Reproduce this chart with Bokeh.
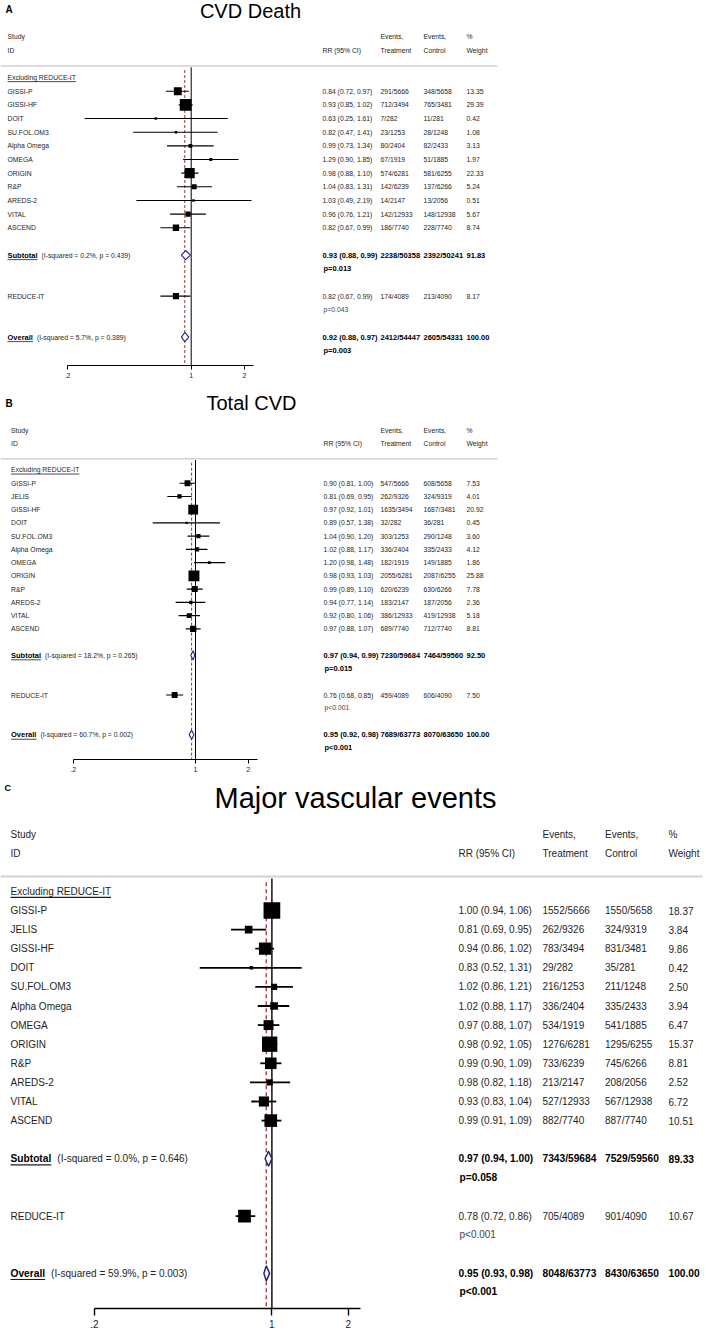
import numpy as np
from bokeh.plotting import figure
from bokeh.models import Range1d, FixedTicker
from bokeh.layouts import column
from bokeh.embed import file_html
from bokeh.resources import INLINE
from bokeh.core.properties import value

FONT = "Liberation Sans"

# ---------------- Panel A: CVD Death ----------------
studies_A = ["GISSI-P", "GISSI-HF", "DOIT", "SU.FOL.OM3", "Alpha Omega", "OMEGA",
             "ORIGIN", "R&P", "AREDS-2", "VITAL", "ASCEND"]
rr_A = [0.84, 0.93, 0.63, 0.82, 0.99, 1.29, 0.98, 1.04, 1.03, 0.96, 0.82]
lo_A = [0.72, 0.85, 0.25, 0.47, 0.73, 0.90, 0.88, 0.83, 0.49, 0.76, 0.67]
hi_A = [0.97, 1.02, 1.61, 1.41, 1.34, 1.85, 1.10, 1.31, 2.19, 1.21, 0.99]
trt_A = ["291/5666", "712/3494", "7/282", "23/1253", "80/2404", "67/1919",
         "574/6281", "142/6239", "14/2147", "142/12933", "186/7740"]
ctl_A = ["348/5658", "765/3481", "11/281", "28/1248", "82/2433", "51/1885",
         "581/6255", "137/6266", "13/2056", "148/12938", "228/7740"]
wt_A = [13.35, 29.39, 0.42, 1.08, 3.13, 1.97, 22.33, 5.24, 0.51, 5.67, 8.74]
# summary rows: subtotal, REDUCE-IT, overall
sum_rr_A = [0.93, 0.82, 0.92]
sum_lo_A = [0.88, 0.67, 0.88]
sum_hi_A = [0.99, 0.99, 0.97]
sum_trt_A = ["2238/50358", "174/4089", "2412/54447"]
sum_ctl_A = ["2392/50241", "213/4090", "2605/54331"]
sum_wt_A = [91.83, 8.17, 100.00]
sum_p_A = ["p=0.013", "p=0.043", "p=0.003"]
het_i2_A = [0.2, 5.7]
het_p_A = [0.439, 0.389]

# ---------------- Panel B: Total CVD ----------------
studies_B = ["GISSI-P", "JELIS", "GISSI-HF", "DOIT", "SU.FOL.OM3", "Alpha Omega", "OMEGA",
             "ORIGIN", "R&P", "AREDS-2", "VITAL", "ASCEND"]
rr_B = [0.90, 0.81, 0.97, 0.89, 1.04, 1.02, 1.20, 0.98, 0.99, 0.94, 0.92, 0.97]
lo_B = [0.81, 0.69, 0.92, 0.57, 0.90, 0.88, 0.98, 0.93, 0.89, 0.77, 0.80, 0.88]
hi_B = [1.00, 0.95, 1.01, 1.38, 1.20, 1.17, 1.48, 1.03, 1.10, 1.14, 1.06, 1.07]
trt_B = ["547/5666", "262/9326", "1635/3494", "32/282", "303/1253", "336/2404",
         "182/1919", "2055/6281", "620/6239", "183/2147", "386/12933", "689/7740"]
ctl_B = ["608/5658", "324/9319", "1687/3481", "36/281", "290/1248", "335/2433",
         "149/1885", "2087/6255", "630/6266", "187/2056", "419/12938", "712/7740"]
wt_B = [7.53, 4.01, 20.92, 0.45, 3.60, 4.12, 1.86, 25.88, 7.78, 2.36, 5.18, 8.81]
sum_rr_B = [0.97, 0.76, 0.95]
sum_lo_B = [0.94, 0.68, 0.92]
sum_hi_B = [0.99, 0.85, 0.98]
sum_trt_B = ["7230/59684", "459/4089", "7689/63773"]
sum_ctl_B = ["7464/59560", "606/4090", "8070/63650"]
sum_wt_B = [92.50, 7.50, 100.00]
sum_p_B = ["p=0.015", "p<0.001", "p<0.001"]
het_i2_B = [18.2, 60.7]
het_p_B = [0.265, 0.002]

# ---------------- Panel C: Major vascular events ----------------
studies_C = ["GISSI-P", "JELIS", "GISSI-HF", "DOIT", "SU.FOL.OM3", "Alpha Omega", "OMEGA",
             "ORIGIN", "R&P", "AREDS-2", "VITAL", "ASCEND"]
rr_C = [1.00, 0.81, 0.94, 0.83, 1.02, 1.02, 0.97, 0.98, 0.99, 0.98, 0.93, 0.99]
lo_C = [0.94, 0.69, 0.86, 0.52, 0.86, 0.88, 0.88, 0.92, 0.90, 0.82, 0.83, 0.91]
hi_C = [1.06, 0.95, 1.02, 1.31, 1.21, 1.17, 1.07, 1.05, 1.09, 1.18, 1.04, 1.09]
trt_C = ["1552/5666", "262/9326", "783/3494", "29/282", "216/1253", "336/2404",
         "534/1919", "1276/6281", "733/6239", "213/2147", "527/12933", "882/7740"]
ctl_C = ["1550/5658", "324/9319", "831/3481", "35/281", "211/1248", "335/2433",
         "541/1885", "1295/6255", "745/6266", "208/2056", "567/12938", "887/7740"]
wt_C = [18.37, 3.84, 9.86, 0.42, 2.50, 3.94, 6.47, 15.37, 8.81, 2.52, 6.72, 10.51]
sum_rr_C = [0.97, 0.78, 0.95]
sum_lo_C = [0.94, 0.72, 0.93]
sum_hi_C = [1.00, 0.86, 0.98]
sum_trt_C = ["7343/59684", "705/4089", "8048/63773"]
sum_ctl_C = ["7529/59560", "901/4090", "8430/63650"]
sum_wt_C = [89.33, 10.67, 100.00]
sum_p_C = ["p=0.058", "p<0.001", "p<0.001"]
het_i2_C = [0.0, 59.9]
het_p_C = [0.646, 0.003]

titles = ["CVD Death", "Total CVD", "Major vascular events"]
letters = ["A", "B", "C"]
tick_vals = [0.2, 1, 2]
tick_text = [".2", "1", "2"]
header_cols = ["RR (95% CI)", "Events,", "Treatment", "Events,", "Control", "%", "Weight"]
group_label = "Excluding REDUCE-IT"
extra_label = "REDUCE-IT"

# text metrics (Arial em widths) for underlines
EM_EXCL = 10.057
EM_SUB_B = 4.0
EM_OVR_B = 3.391


def build(L, d):
    x1, ppd, dy, y0 = L["x1"], L["ppd"], L["dy"], L["y0"]

    def X(px):
        return 10 ** ((px - x1) / ppd)

    def R(py):
        return (py - y0) / dy

    top, H, W, mbb = L["top"], L["height"], L["width"], L["mbb"]
    bottom_row = R(top + H - mbb)
    p = figure(width=W, height=H, x_axis_type="log",
               x_range=Range1d(X(0), X(W)), y_range=Range1d(bottom_row, R(top)),
               output_backend="svg", toolbar_location=None, y_axis_location=None,
               title_location=None,
               min_border_left=0, min_border_right=0, min_border_top=0,
               min_border_bottom=mbb, outline_line_color=None,
               background_fill_color="white", border_fill_color="white")
    p.xgrid.grid_line_color = None
    p.ygrid.grid_line_color = None
    fs, fsb = L["fs"], L["fsb"]

    def T(xs, ys, texts, size, bold=False, color="#1e1e1e", align="left"):
        p.text(x=xs, y=ys, text=texts, text_font=value(FONT),
               text_font_size=value(f"{size}px"),
               text_font_style="bold" if bold else "normal",
               text_color=color, text_align=align, text_baseline="middle")

    def UL(px, wpx, row, size):
        yy = row + 0.6 * size / dy
        p.segment(x0=[X(px)], x1=[X(px + wpx)], y0=[yy], y1=[yy],
                  line_color="#1e1e1e", line_width=L["ul_lw"])

    n = len(d["studies"])
    rows = np.arange(n)
    r_sub, r_red, r_all = n + 1, n + 4, n + 7
    hdr = L["hdr_row"]
    lx = L["label_x"]
    cx = L["cols"]

    # header rule
    p.segment(x0=[X(0)], x1=[X(L["line_end"])], y0=[hdr], y1=[hdr],
              line_color="#d2d2d2", line_width=L["hdr_lw"])
    # null line and overall dashed line
    p.segment(x0=[1], x1=[1], y0=[hdr + 0.1], y1=[bottom_row],
              line_color="black", line_width=L["null_lw"])
    p.segment(x0=[d["sum_rr"][2]], x1=[d["sum_rr"][2]], y0=[hdr + 0.3], y1=[bottom_row],
              line_color="#a3322f", line_width=L["dash_lw"], line_dash=L["dash"])

    # CIs + squares (studies and REDUCE-IT)
    all_rr = list(d["rr"]) + [d["sum_rr"][1]]
    all_lo = list(d["lo"]) + [d["sum_lo"][1]]
    all_hi = list(d["hi"]) + [d["sum_hi"][1]]
    all_w = np.array(list(d["wt"]) + [d["sum_wt"][1]])
    all_rows = list(rows) + [r_red]
    p.segment(x0=all_lo, x1=all_hi, y0=all_rows, y1=all_rows,
              line_color="black", line_width=L["ci_lw"])
    sizes = np.maximum(L["k"] * np.sqrt(all_w), L["smin"])
    p.scatter(x=all_rr, y=all_rows, size=sizes, marker="square",
              fill_color="black", line_color=None)

    # diamonds for subtotal and overall
    h = L["diam_h"] / dy
    xs, ys = [], []
    for i, r in ((0, r_sub), (2, r_all)):
        xs.append([d["sum_lo"][i], d["sum_rr"][i], d["sum_hi"][i], d["sum_rr"][i]])
        ys.append([r, r - h, r, r + h])
    p.patches(xs=xs, ys=ys, fill_color="white", line_color="#22227e",
              line_width=L["diam_lw"])

    # title and letter
    T([X(L["title_x"])], [R(L["title_y"])], [d["title"]], L["title_fs"],
      color="black", align="center")
    T([X(L["letter_x"])], [R(L["letter_y"])], [d["letter"]], L["letter_fs"],
      bold=True, color="black")

    # headers
    T([X(lx)] * 2, [-4, -3], ["Study", "ID"], fs)
    T([X(cx[0])], [-3], [header_cols[0]], fs)
    T([X(cx[1])] * 2, [-4, -3], header_cols[1:3], fs)
    T([X(cx[2])] * 2, [-4, -3], header_cols[3:5], fs)
    T([X(cx[3])] * 2, [-4, -3], header_cols[5:7], fs)

    # group label
    T([X(lx)], [-1], [group_label], fs)
    UL(lx, EM_EXCL * fs, -1, fs)

    # study rows
    rr_txt = [f"{a:.2f} ({b:.2f}, {c:.2f})" for a, b, c in zip(d["rr"], d["lo"], d["hi"])]
    T([X(lx)] * n, list(rows), d["studies"], fs)
    T([X(cx[0])] * n, list(rows), rr_txt, fs)
    T([X(cx[1])] * n, list(rows), d["trt"], fs)
    T([X(cx[2])] * n, list(rows), d["ctl"], fs)
    T([X(cx[3])] * n, list(rows), [f"{w:.2f}" for w in d["wt"]], fs)

    # summary rows
    s_txt = [f"{a:.2f} ({b:.2f}, {c:.2f})" for a, b, c in zip(d["sum_rr"], d["sum_lo"], d["sum_hi"])]
    gap = L["gap"]
    for i, r, word, em in ((0, r_sub, "Subtotal", EM_SUB_B), (2, r_all, "Overall", EM_OVR_B)):
        k = 0 if i == 0 else 1
        T([X(lx)], [r], [word], fsb, bold=True, color="black")
        UL(lx, em * fsb, r, fsb)
        T([X(lx + em * fsb + gap)], [r],
          [f"(I-squared = {d['het_i2'][k]:.1f}%, p = {d['het_p'][k]:.3f})"], fs)
        T([X(cx[0]), X(cx[1]), X(cx[2]), X(cx[3])], [r] * 4,
          [s_txt[i], d["sum_trt"][i], d["sum_ctl"][i], f"{d['sum_wt'][i]:.2f}"],
          fsb, bold=True, color="black")
        T([X(cx[0] + 1)], [r + 0.97], [d["sum_p"][i]], fsb, bold=True, color="black")
    # REDUCE-IT row
    T([X(lx)], [r_red], [extra_label], fs)
    T([X(cx[0]), X(cx[1]), X(cx[2]), X(cx[3])], [r_red] * 4,
      [s_txt[1], d["sum_trt"][1], d["sum_ctl"][1], f"{d['sum_wt'][1]:.2f}"], fs)
    T([X(cx[0] + 1)], [r_red + 0.95], [d["sum_p"][1]], fs, color="#444444")

    # axis
    ax = p.xaxis[0]
    ax.ticker = FixedTicker(ticks=tick_vals)
    ax.major_label_overrides = {v: t for v, t in zip(tick_vals, tick_text)}
    ax.bounds = (tick_vals[0], L["axis_end"])
    ax.axis_line_color = "black"
    ax.axis_line_width = L["axis_lw"]
    ax.major_tick_line_color = "black"
    ax.major_tick_line_width = L["axis_lw"]
    ax.major_tick_in = 0
    ax.major_tick_out = L["tick_out"]
    ax.minor_tick_line_color = None
    ax.major_label_standoff = L["standoff"]
    ax.major_label_text_font = FONT
    ax.major_label_text_font_size = f"{L['tick_fs']}px"
    ax.major_label_text_color = "#1e1e1e"
    return p


def pack(i, studies, rr, lo, hi, trt, ctl, wt, srr, slo, shi, strt, sctl, swt, sp, hi2, hp):
    return dict(title=titles[i], letter=letters[i], studies=studies, rr=rr, lo=lo, hi=hi,
                trt=trt, ctl=ctl, wt=wt, sum_rr=srr, sum_lo=slo, sum_hi=shi,
                sum_trt=strt, sum_ctl=sctl, sum_wt=swt, sum_p=sp, het_i2=hi2, het_p=hp)


small = dict(fs=6.8, fsb=7.5, title_fs=20, letter_fs=10, k=2.15, smin=2.4, ci_lw=1.1,
             diam_h=4.6, diam_lw=1.1, tick_fs=7, tick_out=4, standoff=3, gap=4,
             ul_lw=0.8, hdr_lw=1.5, null_lw=1.0, dash_lw=1.0, dash="3 2",
             axis_lw=1.0, axis_end=2.25, line_end=497, hdr_row=-1.85)

LA = dict(small, top=0, width=500, height=388, mbb=23, y0=90.7, dy=13.66,
          x1=190.7, ppd=177, label_x=7, cols=(322, 380, 423, 466),
          title_x=250, title_y=10, letter_x=5, letter_y=9)
LB = dict(small, top=388, width=500, height=394, mbb=23, y0=482.7, dy=13.24,
          x1=195, ppd=175, label_x=10.5, cols=(323, 380, 423, 466),
          title_x=251, title_y=402, letter_x=5, letter_y=403)
LC = dict(fs=10, fsb=10.2, title_fs=29, letter_fs=9, k=3.9, smin=3.5, ci_lw=1.8,
          diam_h=7.5, diam_lw=1.5, tick_fs=10, tick_out=7, standoff=4, gap=6,
          ul_lw=1.2, hdr_lw=2, null_lw=1.4, dash_lw=1.3, dash="4 3",
          axis_lw=1.4, axis_end=2.24, line_end=702, hdr_row=-1.78,
          top=782, width=709, height=550, mbb=24, y0=910, dy=19.1,
          x1=271.4, ppd=254, label_x=10, cols=(458, 542, 604.5, 668),
          title_x=355, title_y=797, letter_x=4, letter_y=787)

pA = build(LA, pack(0, studies_A, rr_A, lo_A, hi_A, trt_A, ctl_A, wt_A, sum_rr_A, sum_lo_A,
                    sum_hi_A, sum_trt_A, sum_ctl_A, sum_wt_A, sum_p_A, het_i2_A, het_p_A))
pB = build(LB, pack(1, studies_B, rr_B, lo_B, hi_B, trt_B, ctl_B, wt_B, sum_rr_B, sum_lo_B,
                    sum_hi_B, sum_trt_B, sum_ctl_B, sum_wt_B, sum_p_B, het_i2_B, het_p_B))
pC = build(LC, pack(2, studies_C, rr_C, lo_C, hi_C, trt_C, ctl_C, wt_C, sum_rr_C, sum_lo_C,
                    sum_hi_C, sum_trt_C, sum_ctl_C, sum_wt_C, sum_p_C, het_i2_C, het_p_C))

layout = column(pA, pB, pC, spacing=0)
open("out.html", "w").write(file_html(layout, INLINE))
